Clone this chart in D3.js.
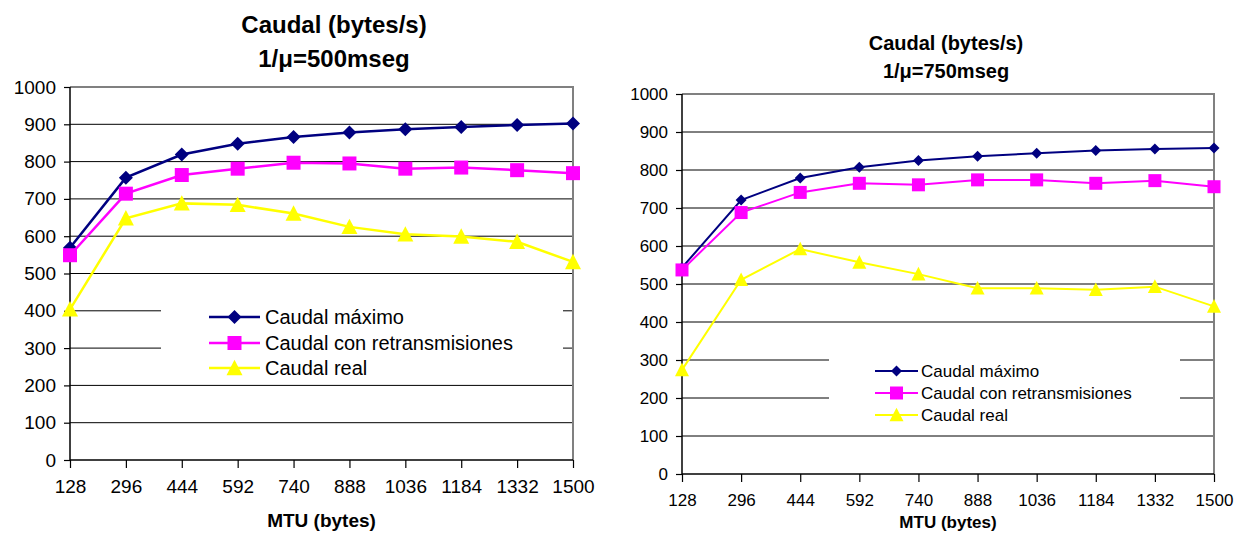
<!DOCTYPE html>
<html>
<head>
<meta charset="utf-8">
<script src="https://cdn.jsdelivr.net/npm/d3@7"></script>
<style>
  body { margin: 0; background: #fff; }
  text { font-family: "Liberation Sans", Arial, sans-serif; fill: #000; }
</style>
</head>
<body>
<svg id="chart" width="1234" height="533"></svg>
<script>
// categories (MTU in bytes)
var mtu = ["128", "296", "444", "592", "740", "888", "1036", "1184", "1332", "1500"];
var yTicks = [0, 100, 200, 300, 400, 500, 600, 700, 800, 900, 1000];
var seriesNames = ["Caudal máximo", "Caudal con retransmisiones", "Caudal real"];

// 1/mu = 500 mseg
var max500 = [569, 757, 819, 848, 866, 878, 887, 893, 898, 902];
var ret500 = [549, 714, 764, 781, 797, 795, 781, 784, 777, 769];
var real500 = [404, 648, 688, 684, 661, 625, 605, 599, 585, 531];

// 1/mu = 750 mseg
var max750 = [543, 721, 779, 807, 825, 836, 844, 851, 855, 858];
var ret750 = [537, 688, 741, 765, 761, 774, 774, 765, 772, 756];
var real750 = [274, 511, 592, 557, 526, 489, 489, 485, 493, 441];

var colors = ["#000080", "#ff00ff", "#ffff00"];
var shapes = ["diamond", "square", "triangle"];

var svg = d3.select("#chart");

function markerPath(shape, s) {
    if (shape === "diamond") return "M0," + (-s) + "L" + s + ",0L0," + s + "L" + (-s) + ",0Z";
    if (shape === "square") return "M" + (-s) + "," + (-s) + "h" + (2 * s) + "v" + (2 * s) + "h" + (-2 * s) + "Z";
    var h = s * 0.9;
    return "M0," + (-h - 1) + "L" + s + "," + h + "L" + (-s) + "," + h + "Z";
}

function drawChart(c, series, mu) {
    var g = svg.append("g");

    var x = d3.scalePoint().domain(mtu).range([c.left, c.right]);
    var y = d3.scaleLinear().domain([0, 1000]).range([c.bottom, c.top]);

    // gridlines
    g.selectAll(".grid")
        .data(yTicks.slice(1, -1))
        .enter().append("line")
        .attr("x1", c.left).attr("x2", c.right)
        .attr("y1", function(d) { return y(d); })
        .attr("y2", function(d) { return y(d); })
        .attr("stroke", "#000").attr("stroke-width", 1);

    // plot frame, top and right in grey
    g.append("path")
        .attr("d", "M" + c.left + "," + c.top + "H" + c.right + "V" + c.bottom)
        .attr("fill", "none").attr("stroke", "#808080").attr("stroke-width", 2);

    // y axis
    var yAxis = g.append("g")
        .attr("transform", "translate(" + c.left + ",0)")
        .call(d3.axisLeft(y).tickValues(yTicks).tickFormat(d3.format("d")).tickSize(6).tickPadding(8));
    // x axis
    var xAxis = g.append("g")
        .attr("transform", "translate(0," + c.bottom + ")")
        .call(d3.axisBottom(x).tickSize(8).tickPadding(c.xPad));

    [yAxis, xAxis].forEach(function(a) {
        a.select(".domain").attr("stroke", "#000").attr("stroke-width", 1.5);
        a.selectAll(".tick line").attr("stroke", "#000").attr("stroke-width", 1.2);
        a.selectAll("text").attr("font-size", c.tickFs).attr("font-family", "Liberation Sans, Arial, sans-serif").attr("fill", "#000");
    });
    xAxis.select(".domain").attr("d", "M" + c.left + ",0H" + c.right);
    yAxis.select(".domain").attr("d", "M0," + c.bottom + "V" + c.top);

    // series lines and markers
    series.forEach(function(vals, i) {
        var line = d3.line()
            .x(function(d, j) { return x(mtu[j]); })
            .y(function(d) { return y(d); });
        g.append("path")
            .attr("d", line(vals))
            .attr("fill", "none")
            .attr("stroke", colors[i])
            .attr("stroke-width", c.lw);
        g.selectAll(".m" + i)
            .data(vals)
            .enter().append("path")
            .attr("transform", function(d, j) { return "translate(" + x(mtu[j]) + "," + y(d) + ")"; })
            .attr("d", markerPath(shapes[i], c.ms[i]))
            .attr("fill", colors[i]);
    });

    // title
    var t = g.append("text")
        .attr("text-anchor", "middle")
        .attr("font-weight", "bold")
        .attr("font-size", c.titleFs);
    t.append("tspan").attr("x", c.titleX).attr("y", c.titleY[0]).text("Caudal (bytes/s)");
    t.append("tspan").attr("x", c.titleX).attr("y", c.titleY[1]).text("1/μ=" + mu + "mseg");

    // x axis title
    g.append("text")
        .attr("x", (c.left + c.right) / 2)
        .attr("y", c.xTitleY)
        .attr("text-anchor", "middle")
        .attr("font-weight", "bold")
        .attr("font-size", c.xTitleFs)
        .text("MTU (bytes)");

    // legend
    var lg = g.append("g");
    lg.append("rect")
        .attr("x", c.leg.x).attr("y", c.leg.y)
        .attr("width", c.leg.w).attr("height", c.leg.h)
        .attr("fill", "#fff");
    seriesNames.forEach(function(name, i) {
        var ry = c.leg.rows[i];
        lg.append("line")
            .attr("x1", c.leg.lx[0]).attr("x2", c.leg.lx[1])
            .attr("y1", ry).attr("y2", ry)
            .attr("stroke", colors[i]).attr("stroke-width", c.lw);
        lg.append("path")
            .attr("transform", "translate(" + ((c.leg.lx[0] + c.leg.lx[1]) / 2) + "," + ry + ")")
            .attr("d", markerPath(shapes[i], c.ms[i]))
            .attr("fill", colors[i]);
        lg.append("text")
            .attr("x", c.leg.tx).attr("y", ry)
            .attr("dy", "0.36em")
            .attr("font-size", c.legFs)
            .text(name);
    });
}

drawChart({
    left: 70, right: 573, top: 87, bottom: 460,
    tickFs: 19, xPad: 12, lw: 2.5, ms: [7, 7, 8],
    titleFs: 24, titleX: 334, titleY: [33, 67],
    xTitleY: 527, xTitleFs: 19,
    legFs: 20,
    leg: { x: 161, y: 294, w: 402, h: 87, rows: [317, 343, 368], lx: [209, 260], tx: 265 }
}, [max500, ret500, real500], 500);

drawChart({
    left: 682, right: 1214, top: 94, bottom: 474,
    tickFs: 17, xPad: 12, lw: 2, ms: [5.5, 6.5, 7],
    titleFs: 20, titleX: 946, titleY: [50, 78],
    xTitleY: 528, xTitleFs: 17,
    legFs: 17,
    leg: { x: 829, y: 351, w: 351, h: 78, rows: [371, 393, 415], lx: [875, 918], tx: 921 }
}, [max750, ret750, real750], 750);
</script>
</body>
</html>
